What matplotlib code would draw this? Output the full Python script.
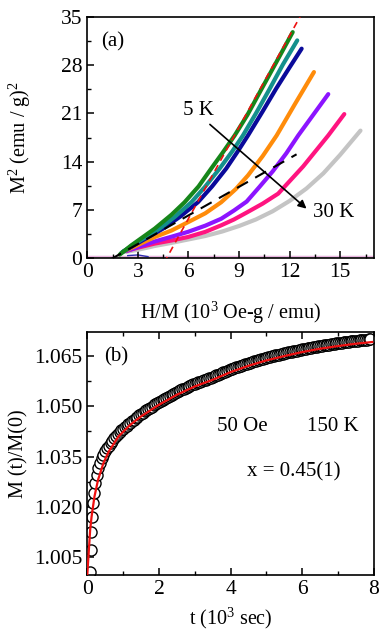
import numpy as np
import matplotlib
matplotlib.use('Agg')
import matplotlib.pyplot as plt
from matplotlib.ticker import MultipleLocator

plt.rcParams['font.family'] = ['Liberation Serif', 'DejaVu Serif']
plt.rcParams['mathtext.fontset'] = 'custom'
plt.rcParams['mathtext.rm'] = 'Liberation Serif'
plt.rcParams['mathtext.it'] = 'Liberation Serif:italic'

# (a) Arrott plots, M^2 vs H/M, 5 K .. 30 K
green_x = [1.92, 2.61, 4.0, 5.0, 5.77, 6.6, 7.35, 8.0, 8.74, 9.5, 10.3, 11.2, 12.18]
green_y = [0.49, 1.84, 4.27, 6.3, 8.1, 10.4, 13.0, 15.2, 17.8, 20.8, 24.4, 28.4, 32.8]
teal_x = [2.0, 2.7, 4.29, 5.2, 6.17, 7.0, 7.85, 8.6, 9.23, 10.0, 10.8, 11.6, 12.45]
teal_y = [0.7, 1.9, 4.27, 6.0, 8.1, 10.4, 13.0, 15.5, 17.8, 21.0, 24.5, 28.1, 31.6]
navy_x = [2.1, 2.8, 4.49, 5.5, 6.56, 7.4, 8.24, 8.9, 9.53, 10.4, 11.2, 12.0, 12.71]
navy_y = [0.9, 1.9, 4.27, 6.0, 8.1, 10.4, 13.0, 15.4, 17.8, 21.3, 24.6, 27.7, 30.4]
orange_x = [2.2, 3.0, 4.0, 5.0, 5.97, 7.0, 7.94, 8.8, 9.53, 10.4, 11.23, 12.3, 13.44]
orange_y = [1.0, 1.9, 3.05, 4.0, 5.2, 6.5, 8.1, 10.0, 12.0, 14.8, 17.8, 22.3, 27.0]
purple_x = [2.3, 3.0, 4.0, 5.0, 5.97, 7.0, 7.94, 8.7, 9.45, 10.2, 11.0, 11.8, 12.51, 13.4, 14.29]
purple_y = [1.0, 1.6, 2.4, 3.1, 3.8, 4.7, 5.7, 6.9, 8.2, 10.3, 12.6, 15.2, 17.8, 20.8, 23.8]
pink_x = [2.4, 3.0, 4.0, 5.0, 5.97, 7.0, 7.94, 8.7, 9.45, 10.4, 11.32, 12.8, 14.29, 15.24]
pink_y = [1.1, 1.5, 2.1, 2.55, 3.05, 3.8, 4.75, 5.6, 6.6, 7.9, 9.35, 13.3, 17.8, 20.9]
gray_x = [2.3, 3.0, 4.0, 5.0, 6.0, 7.0, 8.0, 9.0, 10.0, 11.0, 12.0, 13.0, 14.0, 15.0, 16.2]
gray_y = [0.9, 1.2, 1.75, 2.2, 2.7, 3.2, 3.85, 4.65, 5.6, 6.8, 8.3, 10.1, 12.3, 15.0, 18.5]

curves_a = [(green_x, green_y, '#16861a'), (teal_x, teal_y, '#14908c'),
            (navy_x, navy_y, '#0a0a9a'), (orange_x, orange_y, '#ff8c0a'),
            (purple_x, purple_y, '#8c14ff'), (pink_x, pink_y, '#ff1480'),
            (gray_x, gray_y, '#c4c4c4')]
draw_order = [6, 5, 4, 3, 2, 1, 0]  # back to front

base_x = [0.0, 17.0]
base_gray_y = [0.0, 0.0]
base_pink_y = [0.25, 0.25]
blip_x = [2.4, 3.0, 3.6]
blip_y = [0.35, 0.45, 0.2]

red_fit_x = [4.55, 12.9]
red_fit_y = [-0.7, 36.3]
black_fit_x = [1.35, 12.41]
black_fit_y = [-0.24, 15.06]

# (b) relaxation M(t)/M(0) at 50 Oe, 150 K
t_data = [0.07, 0.09, 0.11, 0.13, 0.16, 0.19, 0.22, 0.26, 0.30, 0.35, 0.40, 0.45,
          0.50, 0.55, 0.60, 0.65, 0.70, 0.75, 0.80, 0.85, 0.90, 0.95,
          1.00, 1.05, 1.10, 1.15, 1.20, 1.25, 1.30, 1.35, 1.40, 1.45,
          1.50, 1.55, 1.60, 1.65, 1.70, 1.75, 1.80, 1.85, 1.90, 1.95,
          2.00, 2.05, 2.10, 2.15, 2.20, 2.25, 2.30, 2.35, 2.40, 2.45,
          2.50, 2.55, 2.60, 2.65, 2.70, 2.75, 2.80, 2.85, 2.90, 2.95,
          3.00, 3.05, 3.10, 3.15, 3.20, 3.25, 3.30, 3.35, 3.40, 3.45,
          3.50, 3.55, 3.60, 3.65, 3.70, 3.75, 3.80, 3.85, 3.90, 3.95,
          4.00, 4.05, 4.10, 4.15, 4.20, 4.25, 4.30, 4.35, 4.40, 4.45,
          4.50, 4.55, 4.60, 4.65, 4.70, 4.75, 4.80, 4.85, 4.90, 4.95,
          5.00, 5.05, 5.10, 5.15, 5.20, 5.25, 5.30, 5.35, 5.40, 5.45,
          5.50, 5.55, 5.60, 5.65, 5.70, 5.75, 5.80, 5.85, 5.90, 5.95,
          6.00, 6.05, 6.10, 6.15, 6.20, 6.25, 6.30, 6.35, 6.40, 6.45,
          6.50, 6.55, 6.60, 6.65, 6.70, 6.75, 6.80, 6.85, 6.90, 6.95,
          7.00, 7.05, 7.10, 7.15, 7.20, 7.25, 7.30, 7.35, 7.40, 7.45,
          7.50, 7.55, 7.60, 7.65, 7.70, 7.75, 7.80, 7.85, 7.90]
m_data = [1.0005, 1.0070, 1.0125, 1.0170, 1.0210, 1.0240, 1.0270, 1.0295, 1.0315,
          1.0330, 1.0345, 1.0355, 1.0365, 1.0374, 1.0382, 1.0390, 1.0397, 1.0404,
          1.0410, 1.0416, 1.0422, 1.0428,
          1.0433, 1.0437, 1.0441, 1.0446, 1.0450, 1.0455, 1.0459, 1.0464, 1.0468, 1.0473,
          1.0477, 1.0481, 1.0485, 1.0489, 1.0492, 1.0496, 1.0499, 1.0503, 1.0506, 1.0510,
          1.0513, 1.0516, 1.0519, 1.0522, 1.0525, 1.0528, 1.0531, 1.0534, 1.0537, 1.0540,
          1.0543, 1.0546, 1.0548, 1.0551, 1.0553, 1.0556, 1.0558, 1.0561, 1.0563, 1.0566,
          1.0568, 1.0570, 1.0572, 1.0574, 1.0576, 1.0578, 1.0580, 1.0582, 1.0584, 1.0586,
          1.0588, 1.0590, 1.0593, 1.0595, 1.0597, 1.0600, 1.0602, 1.0604, 1.0606, 1.0609,
          1.0611, 1.0613, 1.0615, 1.0617, 1.0619, 1.0620, 1.0622, 1.0624, 1.0626, 1.0628,
          1.0630, 1.0631, 1.0633, 1.0635, 1.0636, 1.0638, 1.0640, 1.0641, 1.0643, 1.0645,
          1.0646, 1.0647, 1.0649, 1.0650, 1.0651, 1.0653, 1.0654, 1.0655, 1.0657, 1.0658,
          1.0659, 1.0660, 1.0662, 1.0663, 1.0664, 1.0665, 1.0666, 1.0667, 1.0669, 1.0670,
          1.0671, 1.0672, 1.0673, 1.0674, 1.0675, 1.0676, 1.0677, 1.0678, 1.0679, 1.0680,
          1.0681, 1.0682, 1.0683, 1.0684, 1.0685, 1.0685, 1.0686, 1.0687, 1.0688, 1.0689,
          1.0690, 1.0690, 1.0691, 1.0692, 1.0693, 1.0693, 1.0694, 1.0695, 1.0695, 1.0696,
          1.0697, 1.0697, 1.0698, 1.0698, 1.0699, 1.0700, 1.0700, 1.0701, 1.0702]
t_fit = [0.0, 0.02, 0.05, 0.08, 0.12, 0.2, 0.3, 0.45, 0.6, 0.87, 1.2, 1.5, 2.0,
         2.5, 3.0, 3.5, 4.0, 4.5, 5.0, 5.5, 6.0, 6.5, 7.0, 7.5, 7.95]
m_fit = [0.9995, 1.003, 1.008, 1.013, 1.017, 1.023, 1.028, 1.033, 1.0365, 1.041,
         1.0445, 1.047, 1.0505, 1.0535, 1.056, 1.058, 1.0603, 1.0622, 1.0638, 1.0651,
         1.0663, 1.0673, 1.0681, 1.0688, 1.0693]

fig = plt.figure(figsize=(3.82, 6.36), dpi=100)
ax1 = fig.add_axes([0.2285, 0.5943, 0.7505, 0.379])
ax2 = fig.add_axes([0.2285, 0.0959, 0.7505, 0.3821])

# --- panel (a)
ax1.plot(base_x, base_gray_y, color='#cccccc', lw=3, solid_capstyle='butt', zorder=1)
ax1.plot(base_x, base_pink_y, color='#eab4e0', lw=1, zorder=1)
ax1.plot(blip_x, blip_y, color='#3030b0', lw=1, zorder=1)
for i in draw_order:
    x, y, c = curves_a[i]
    ax1.plot(x, y, color=c, lw=3, solid_capstyle='round', solid_joinstyle='round', zorder=2)
ax1.plot(red_fit_x, red_fit_y, color='#ee1010', lw=1.2, ls=(0, (4, 3)), zorder=3)
ax1.plot(black_fit_x, black_fit_y, color='black', lw=1.5, ls=(0, (6, 4)), zorder=3)
ax1.annotate('', xy=(13.0, 7.17), xytext=(7.27, 19.4),
             arrowprops=dict(arrowstyle='-|>', color='black', lw=1.2,
                             mutation_scale=12, shrinkA=0, shrinkB=0), zorder=4)
ax1.text(6.59, 21.45, '5 K', fontsize=15, ha='center', va='center')
ax1.text(14.58, 6.68, '30 K', fontsize=15, ha='center', va='center')
ax1.text(1.52, 31.4, '(a)', fontsize=15, ha='center', va='center')

ax1.set_xlim(0, 17)
ax1.set_ylim(0, 35)
ax1.xaxis.set_major_locator(MultipleLocator(3))
ax1.xaxis.set_minor_locator(MultipleLocator(1.5))
ax1.yaxis.set_major_locator(MultipleLocator(7))
ax1.yaxis.set_minor_locator(MultipleLocator(3.5))
ax1.set_xlabel('H/M (10$^3$ Oe-g / emu)', fontsize=14.5, labelpad=13)
ax1.set_ylabel('M$^2$ (emu / g)$^2$', fontsize=14.5, labelpad=20)

# --- panel (b)
ax2.plot(t_data, m_data, 'o', ms=8, mfc='white', mec='black', mew=1.0, zorder=2)
ax2.plot(t_fit, m_fit, color='#ee1010', lw=1.6, zorder=3)
ax2.text(0.82, 1.065, '(b)', fontsize=15, ha='center', va='center')
ax2.text(4.32, 1.044, '50 Oe', fontsize=15, ha='center', va='center')
ax2.text(6.84, 1.044, '150 K', fontsize=15, ha='center', va='center')
ax2.text(5.76, 1.0305, 'x = 0.45(1)', fontsize=15, ha='center', va='center')

ax2.set_xlim(0, 8)
ax2.set_ylim(0.9995, 1.0723)
ax2.xaxis.set_major_locator(MultipleLocator(2))
ax2.xaxis.set_minor_locator(MultipleLocator(1))
ax2.set_yticks([1.005, 1.020, 1.035, 1.050, 1.065])
ax2.set_yticklabels(['1.005', '1.020', '1.035', '1.050', '1.065'])
ax2.yaxis.set_minor_locator(MultipleLocator(0.0075))
ax2.set_xlabel('t (10$^3$ sec)', fontsize=14.5, labelpad=5)
ax2.set_ylabel('M (t)/M(0)', fontsize=14.5, labelpad=4)

for ax in (ax1, ax2):
    for s in ax.spines.values():
        s.set_linewidth(1.2)
    ax.tick_params(which='both', direction='in', labelsize=15.5)
    ax.tick_params(which='major', length=5, width=1.1)
    ax.tick_params(which='minor', length=3, width=1.0)
ax2.tick_params(which='both', top=True)

fig.savefig('out.png', dpi=100)
